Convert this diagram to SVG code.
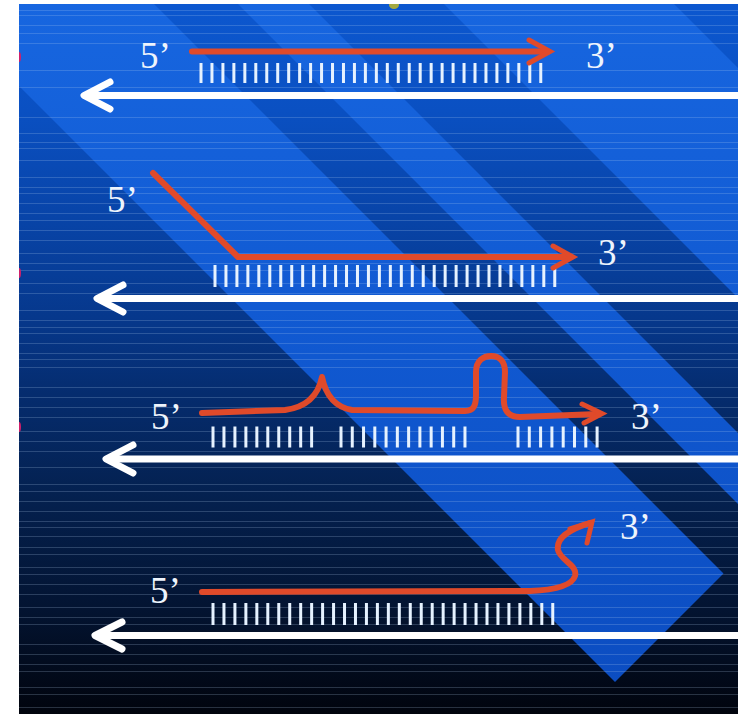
<svg xmlns="http://www.w3.org/2000/svg" width="738" height="714" viewBox="0 0 738 714">
<defs>
<style>
.t{font-family:"Liberation Serif","Times New Roman",serif;font-size:37px;fill:#eef4fc}
.red{fill:none;stroke:#e04a2a;stroke-width:6;stroke-linecap:round;stroke-linejoin:round}
.rhead{fill:none;stroke:#e04a2a;stroke-width:5;stroke-linecap:round;stroke-linejoin:miter}
.strand{fill:none;stroke:#ffffff;stroke-width:7}
.whead{fill:none;stroke:#ffffff;stroke-width:7;stroke-linecap:round;stroke-linejoin:round}
.ticks{fill:none;stroke:#e6f2ff;stroke-dasharray:3 7.96}
.hl{fill:none;stroke:#b8d0f0;stroke-width:1;opacity:0.22}
</style>
<linearGradient id="bg" x1="0" y1="4" x2="0" y2="714" gradientUnits="userSpaceOnUse">
<stop offset="0" stop-color="#0c57cf"/>
<stop offset="0.15" stop-color="#0a50c2"/>
<stop offset="0.3" stop-color="#0844a8"/>
<stop offset="0.45" stop-color="#06378a"/>
<stop offset="0.55" stop-color="#052c6e"/>
<stop offset="0.7" stop-color="#04204e"/>
<stop offset="0.85" stop-color="#031432"/>
<stop offset="1" stop-color="#01040d"/>
</linearGradient>
<linearGradient id="band" x1="0" y1="0" x2="0" y2="714" gradientUnits="userSpaceOnUse">
<stop offset="0" stop-color="#1766e0"/>
<stop offset="0.5" stop-color="#1058d0"/>
<stop offset="1" stop-color="#0b4cc0"/>
</linearGradient>
<clipPath id="clip"><rect x="19" y="4" width="719" height="710"/></clipPath>
</defs>
<rect x="0" y="0" width="738" height="714" fill="#ffffff"/>
<g id="background" clip-path="url(#clip)">
<rect x="19" y="4" width="719" height="710" fill="url(#bg)"/>
<polygon points="-117,-50 100,-50 723.5,573.5 615,682" fill="url(#band)"/>
<polygon points="184,-50 255,-50 1105,800 1034,800" fill="url(#band)"/>
<polygon points="390,-50 620,-50 1470,800 1240,800" fill="url(#band)"/>
<path class="hl" d="M19 10.5H738M19 15.5H738M19 25.5H738M19 33.5H738M19 43.5H738M19 70.5H738M19 87.5H738M19 117.5H738M19 133.5H738M19 142.5H738M19 148.5H738M19 160.5H738M19 177.5H738M19 187.5H738M19 193.5H738M19 203.5H738M19 213.5H738M19 220.5H738M19 230.5H738M19 240.5H738M19 253.5H738M19 263.5H738M19 270.5H738M19 283.5H738M19 293.5H738M19 310.5H738M19 320.5H738M19 327.5H738M19 333.5H738M19 343.5H738M19 353.5H738M19 359.5H738M19 367.5H738M19 387.5H738M19 397.5H738M19 407.5H738M19 417.5H738M19 431.5H738M19 441.5H738M19 451.5H738M19 467.5H738M19 484.5H738M19 491.5H738M19 501.5H738M19 511.5H738M19 521.5H738M19 527.5H738M19 536.5H738M19 547.5H738M19 554.5H738M19 567.5H738M19 574.5H738M19 584.5H738M19 594.5H738M19 607.5H738M19 617.5H738M19 624.5H738M19 644.5H738M19 654.5H738M19 664.5H738M19 671.5H738M19 687.5H738M19 694.5H738M19 707.5H738"/>
<ellipse cx="394" cy="5" rx="5" ry="4" fill="#c0b828" opacity="0.85"/>
<ellipse cx="19" cy="57" rx="2" ry="5" fill="#d0206a"/>
<ellipse cx="19" cy="273" rx="2" ry="5" fill="#d0206a"/>
<ellipse cx="19" cy="427" rx="2" ry="5" fill="#d0206a"/>
</g>
<g id="panel1">
<line class="ticks" x1="199.5" y1="73" x2="542.3" y2="73" stroke-width="20"/>
<line class="strand" x1="88" y1="95.5" x2="738" y2="95.5"/>
<polyline class="whead" points="110,82 84,95.5 110,109"/>
<path class="red" d="M192,51.5 L548,51.5"/>
<polyline class="rhead" points="529,40 550,51.5 529,63"/>
<text class="t" x="140" y="68">5’</text>
<text class="t" x="586" y="68">3’</text>
</g>
<g id="panel2">
<line class="ticks" x1="213.5" y1="276" x2="556.3" y2="276" stroke-width="22"/>
<line class="strand" x1="101" y1="298.5" x2="738" y2="298.5"/>
<polyline class="whead" points="123,285 97,298.5 123,312"/>
<path class="red" d="M153,173 L238,257 L570,257"/>
<polyline class="rhead" points="553,246 573,257 553,268"/>
<text class="t" x="107" y="212">5’</text>
<text class="t" x="598" y="265">3’</text>
</g>
<g id="panel3">
<line class="ticks" x1="211.5" y1="437" x2="313.1" y2="437" stroke-width="21"/>
<line class="ticks" x1="339.5" y1="437" x2="466.5" y2="437" stroke-width="21" style="stroke-dasharray:3 8.27"/>
<line class="ticks" x1="516.5" y1="437" x2="598.6" y2="437" stroke-width="21" style="stroke-dasharray:3 8.3"/>
<line class="strand" x1="110" y1="459" x2="738" y2="459"/>
<polyline class="whead" points="133,445 106,459 133,473"/>
<path class="red" d="M202,413 L285,410 Q316,406 322,377 Q328,406 352,410 L465,411 C474,411 476,405 476,395 L476,372 C476,360 484,356 491,356 C500,356 505,362 505,372 L504,397 C503,410 508,417 520,417 L598,414"/>
<polyline class="rhead" points="582,404 602,413.5 584,423"/>
<text class="t" x="151" y="429">5’</text>
<text class="t" x="631" y="429">3’</text>
</g>
<g id="panel4">
<line class="ticks" x1="211.5" y1="614" x2="554.3" y2="614" stroke-width="22"/>
<line class="strand" x1="99" y1="635.5" x2="738" y2="635.5"/>
<polyline class="whead" points="122,622 95,635.5 122,649"/>
<path class="red" d="M202,592 L530,591 C555,590 572,586 575,576 C578,565 560,560 558,550 C556,538 568,530 590,523"/>
<polyline class="rhead" points="570,529 592,522 587,543"/>
<text class="t" x="150" y="603">5’</text>
<text class="t" x="620" y="539">3’</text>
</g>
</svg>
